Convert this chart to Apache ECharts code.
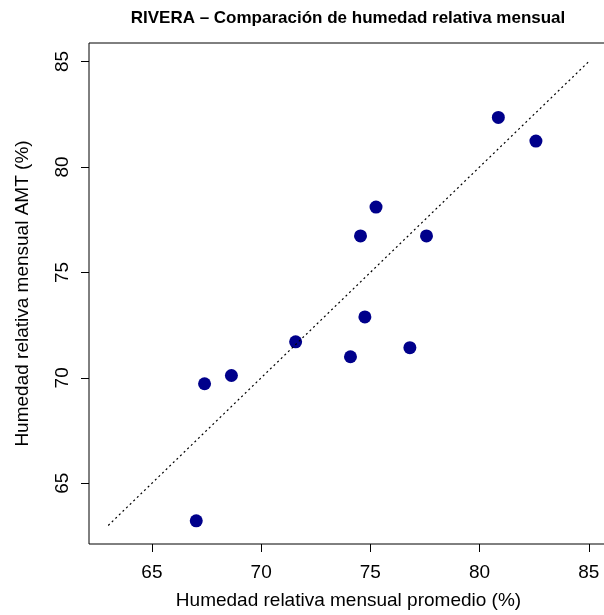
<!DOCTYPE html>
<html>
<head>
<meta charset="utf-8">
<script src="https://cdn.jsdelivr.net/npm/echarts@6/dist/echarts.min.js"></script>
<style>
  html, body {margin: 0; padding: 0; background: #fff;}
  #scatter {width: 604px; height: 615px;}
</style>
</head>
<body>
<div id="scatter"></div>
<script>
// datos
var humPromedio = [80.86, 82.58, 75.26, 74.55, 77.57, 74.75, 71.58, 74.09, 76.81, 68.64, 67.41, 67.03];
var humAMT      = [82.35, 81.23, 78.10, 76.73, 76.73, 72.89, 71.71, 71.00, 71.43, 70.11, 69.72, 63.22];
var lineaXY = [63, 85];   // recta 1:1
var ticks = [65, 70, 75, 80, 85];

var puntos = [];
for (var i = 0; i < humPromedio.length; i++) {
    puntos.push([humPromedio[i], humAMT[i]]);
}
var recta = [[lineaXY[0], lineaXY[0]], [lineaXY[1], lineaXY[1]]];

var font = 'Liberation Sans, Arial, sans-serif';
var scatter = echarts.init(document.getElementById('scatter'));
scatter.setOption({
    animation: false,
    title: {
        text: 'RIVERA \u2013 Comparación de humedad relativa mensual',
        left: 343, top: 5, textAlign: 'center',
        textStyle: {fontFamily: font, fontSize: 17, fontWeight: 'bold', color: '#000'}
    },
    grid: {
        left: 89, top: 43, width: 519, height: 501,
        outerBoundsMode: 'none', containLabel: false,
        show: true, borderColor: '#000', borderWidth: 1, backgroundColor: 'transparent'
    },
    xAxis: {
        type: 'value', min: 62.12, max: 85.88,
        name: 'Humedad relativa mensual promedio (%)',
        nameLocation: 'middle', nameGap: 47,
        nameTextStyle: {fontFamily: font, fontSize: 19, color: '#000'},
        axisLine: {show: false},
        splitLine: {show: false},
        axisTick: {show: true, length: 8, customValues: ticks, lineStyle: {color: '#000'}},
        axisLabel: {customValues: ticks, margin: 19, fontFamily: font, fontSize: 19, color: '#000'}
    },
    yAxis: {
        type: 'value', min: 62.12, max: 85.88,
        name: 'Humedad relativa mensual AMT (%)',
        nameLocation: 'middle', nameGap: 57, nameRotate: 90,
        nameTextStyle: {fontFamily: font, fontSize: 19, color: '#000'},
        axisLine: {show: false},
        splitLine: {show: false},
        axisTick: {show: true, length: 8, customValues: ticks, lineStyle: {color: '#000'}},
        axisLabel: {customValues: ticks, rotate: 90, margin: 17, fontFamily: font, fontSize: 19, color: '#000'}
    },
    series: [
        {
            type: 'line',
            data: recta,
            symbol: 'none',
            lineStyle: {color: '#000', width: 1.2, type: [2, 3]},
            silent: true
        },
        {
            type: 'scatter',
            data: puntos,
            symbolSize: 13,
            itemStyle: {color: '#00008B', opacity: 1}
        }
    ]
});
</script>
</body>
</html>
